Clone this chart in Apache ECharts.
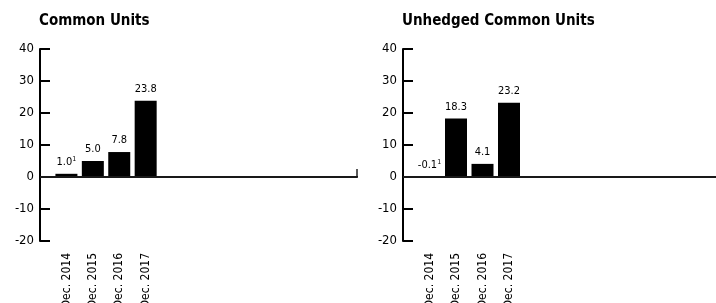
<!DOCTYPE html>
<html>
<head>
<meta charset="utf-8">
<script src="https://cdn.jsdelivr.net/npm/echarts@6/dist/echarts.min.js"></script>
<style>
  html, body { margin: 0; padding: 0; background: #fff; }
  #chart { width: 716px; height: 303px; }
</style>
</head>
<body>
<div id="chart"></div>
<script>
// data
var categories = ['Dec. 2014', 'Dec. 2015', 'Dec. 2016', 'Dec. 2017'];
var commonUnits = [1.0, 5.0, 7.8, 23.8];
var unhedgedUnits = [-0.1, 18.3, 4.1, 23.2];
var commonNotes = ['1', '', '', ''];
var unhedgedNotes = ['1', '', '', ''];
var titles = ['Common Units', 'Unhedged Common Units'];
var yTicks = { min: -20, max: 40, interval: 10 };

var font = '"DejaVu Sans Condensed", "Liberation Sans", Arial, sans-serif';
var slots = 13; // one empty slot before the bars, rest empty after

// axis data: blank slot, the categories, then blanks
function axisData() {
  var arr = [''].concat(categories);
  while (arr.length < slots) arr.push('');
  return arr;
}
function seriesData(vals) {
  var arr = [null].concat(vals);
  while (arr.length < slots) arr.push(null);
  return arr;
}

function makeX(idx) {
  return {
    type: 'category', gridIndex: idx, data: axisData(), boundaryGap: false,
    axisLine: { lineStyle: { color: '#000', width: 2 } },
    axisTick: { show: false },
    axisLabel: { rotate: 90, interval: 0, margin: 12, color: '#000', fontSize: 12, fontFamily: font }
  };
}
function makeY(idx) {
  return {
    type: 'value', gridIndex: idx, min: yTicks.min, max: yTicks.max, interval: yTicks.interval,
    axisLine: { show: true, lineStyle: { color: '#000', width: 2 } },
    axisTick: { show: true, inside: true, length: 10, lineStyle: { color: '#000', width: 2 } },
    splitLine: { show: false },
    axisLabel: { margin: 6, color: '#000', fontSize: 13, fontFamily: font }
  };
}
function makeBar(idx, vals, notes) {
  return {
    type: 'bar', xAxisIndex: idx, yAxisIndex: idx,
    data: seriesData(vals), barWidth: 22,
    itemStyle: { color: '#000' },
    label: {
      show: true, position: 'top', distance: 5,
      formatter: function (p) {
        var i = p.dataIndex - 1;
        var s = '{v|' + vals[i].toFixed(1) + '}';
        if (notes[i]) s += '{s|' + notes[i] + '}';
        return s;
      },
      rich: {
        v: { fontSize: 11, color: '#000', fontFamily: font, lineHeight: 13 },
        s: { fontSize: 7, color: '#000', fontFamily: font, lineHeight: 13, verticalAlign: 'top' }
      }
    },
    markLine: {
      silent: true, symbol: 'none', label: { show: false },
      lineStyle: { color: '#222', width: 1.5, type: 'solid' },
      data: [{ yAxis: 0 }]
    }
  };
}

var titleStyle = { fontSize: 15, fontWeight: 'bold', color: '#000', fontFamily: font };
var chart = echarts.init(document.getElementById('chart'));
chart.setOption({
  animation: false,
  title: [
    { text: titles[0], left: 39, top: 14, padding: 0, textStyle: titleStyle },
    { text: titles[1], left: 402, top: 14, padding: 0, textStyle: titleStyle }
  ],
  grid: [
    { left: 40, right: 359, top: 49, bottom: 62, containLabel: false, outerBoundsMode: 'none' },
    { left: 403, right: -5, top: 49, bottom: 62, containLabel: false, outerBoundsMode: 'none' }
  ],
  xAxis: [makeX(0), makeX(1)],
  yAxis: [makeY(0), makeY(1)],
  series: [makeBar(0, commonUnits, commonNotes), makeBar(1, unhedgedUnits, unhedgedNotes)]
});

// small end tick on the left zero line
var y0 = chart.convertToPixel({ yAxisIndex: 0 }, 0);
var xEnd = 716 - 359;
chart.setOption({
  graphic: [{
    type: 'line', shape: { x1: xEnd, y1: y0 - 8, x2: xEnd, y2: y0 },
    style: { stroke: '#222', lineWidth: 1.5 }
  }]
});
</script>
</body>
</html>
